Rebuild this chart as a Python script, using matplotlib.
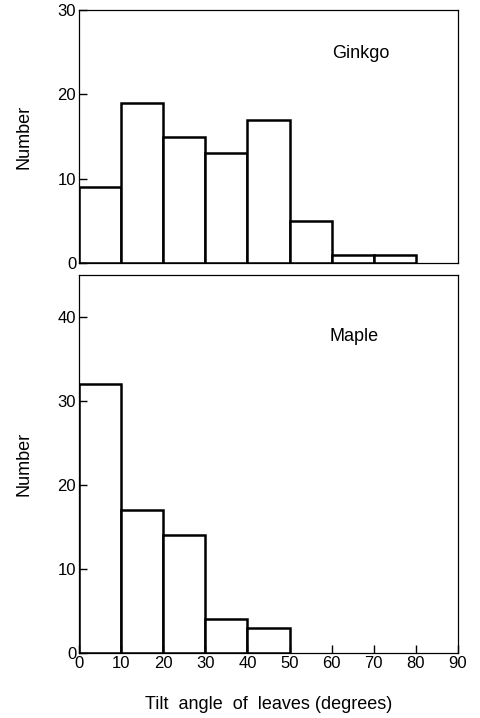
import matplotlib
matplotlib.use('Agg')
import matplotlib.pyplot as plt

# left edge of each tilt angle bin (degrees)
ginkgo_bins = [0, 10, 20, 30, 40, 50, 60, 70]
ginkgo_counts = [9, 19, 15, 13, 17, 5, 1, 1]
maple_bins = [0, 10, 20, 30, 40]
maple_counts = [32, 17, 14, 4, 3]

x_ticks = [0, 10, 20, 30, 40, 50, 60, 70, 80, 90]
ginkgo_yticks = [0, 10, 20, 30]
maple_yticks = [0, 10, 20, 30, 40]

plt.rcParams['font.family'] = ['Liberation Sans', 'DejaVu Sans']
plt.rcParams['font.size'] = 12

W, H = 481, 718
fig = plt.figure(figsize=(W / 100, H / 100), dpi=100)
left = 79 / W
width = (458 - 79) / W
ax1 = fig.add_axes([left, 1 - 263 / H, width, (263 - 10) / H])
ax2 = fig.add_axes([left, 1 - 653 / H, width, (653 - 275) / H])


def draw(ax, edges, counts, yticks, ymax, label, lx, ly):
    ax.bar(edges, counts, width=10, align='edge', facecolor='white',
           edgecolor='black', linewidth=1.8)
    ax.set_xlim(0, 90)
    ax.set_ylim(0, ymax)
    ax.set_yticks(yticks)
    ax.tick_params(direction='in', length=6, width=1, labelsize=12, pad=2)
    for s in ax.spines.values():
        s.set_linewidth(0.9)
    ax.set_ylabel('Number', fontsize=13, labelpad=18)
    ax.text(lx, ly, label, fontsize=13, ha='left', va='center')


draw(ax1, ginkgo_bins, ginkgo_counts, ginkgo_yticks, 30, 'Ginkgo', 60, 24.8)
ax1.set_xticks([])

draw(ax2, maple_bins, maple_counts, maple_yticks, 45, 'Maple', 59.5, 37.7)
ax2.set_xticks(x_ticks)
ax2.set_xlabel('Tilt  angle  of  leaves (degrees)', fontsize=13, labelpad=18)

fig.savefig('out.png', dpi=100)
